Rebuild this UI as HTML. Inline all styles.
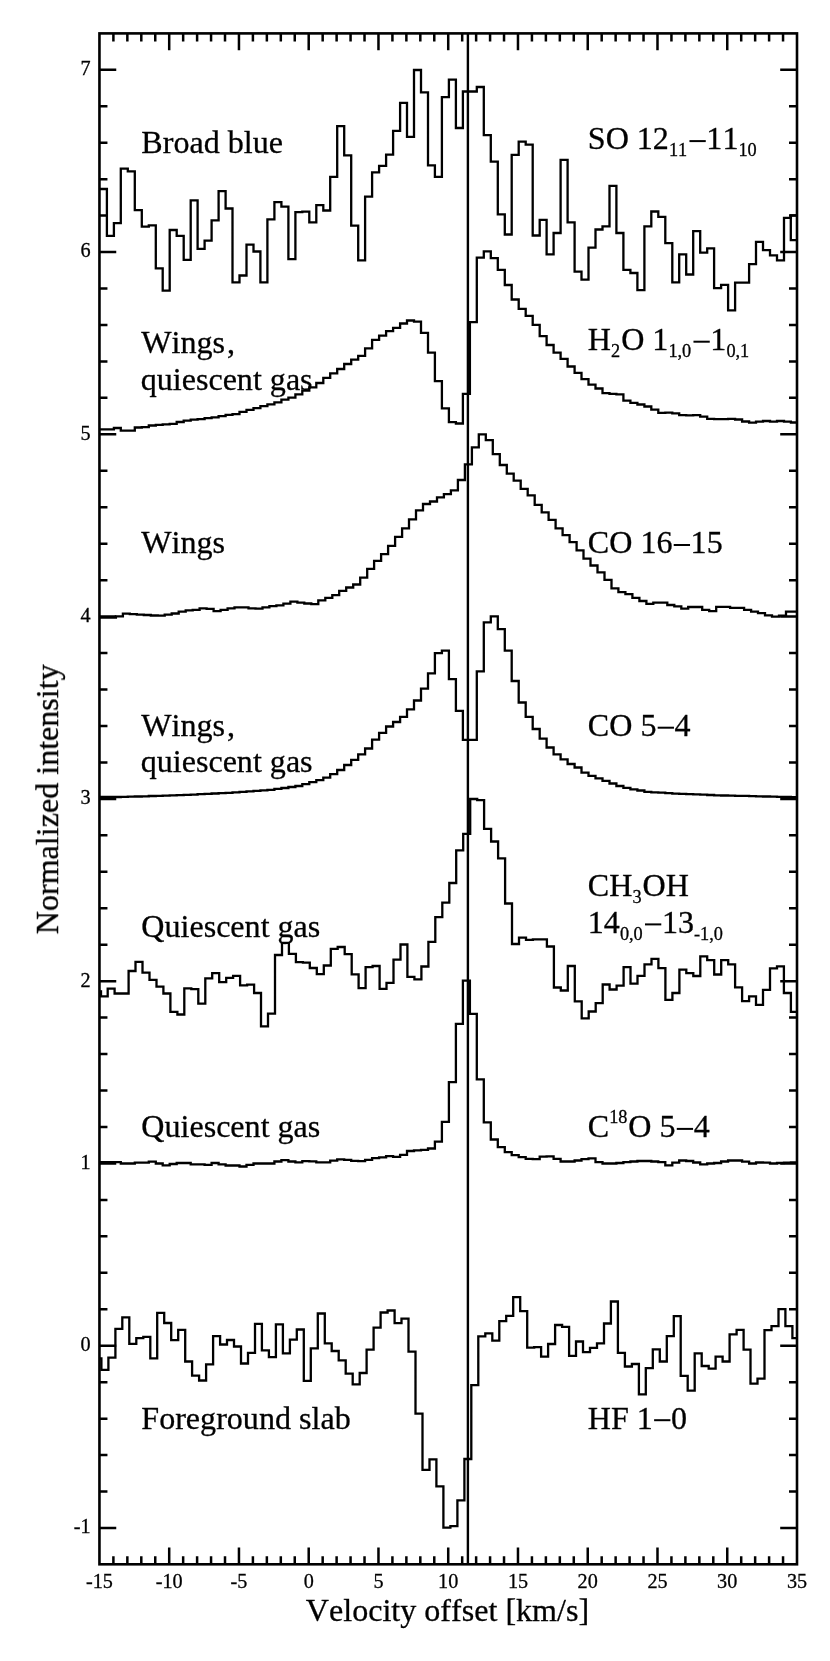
<!DOCTYPE html>
<html><head><meta charset="utf-8"><style>
html,body{margin:0;padding:0;background:#fff}
svg{display:block}
text{font-family:"Liberation Serif",serif;fill:#000;font-kerning:none;stroke:#000;stroke-width:0.3px}
</style></head><body>
<svg width="830" height="1661" viewBox="0 0 830 1661">
<rect width="830" height="1661" fill="#fff"/>
<g fill="none" stroke="#000" stroke-width="2.3" stroke-linejoin="miter" stroke-linecap="butt">
<path d="M99.5,189.0H106.9V235.8H113.9V223.1H120.8V168.7H127.8V171.3H134.8V210.2H141.8V226.7H148.8V225.4H155.8V268.4H162.7V290.7H169.7V230.0H176.7V235.8H183.7V259.8H190.7V200.4H197.6V248.9H204.6V240.6H211.6V220.3H218.6V191.2H225.6V208.5H232.5V282.3H239.5V275.5H246.5V244.6H253.5V251.5H260.4V282.3H267.4V219.3H274.4V202.1H281.4V206.7H288.4V259.1H295.4V212.2H302.3V211.7H309.3V222.4H316.3V205.2H323.3V210.5H330.2V176.8H337.2V126.2H344.2V155.3H351.2V225.7H358.2V260.3H365.1V196.6H372.1V172.3H379.1V165.9H386.1V154.6H393.1V130.8H400.1V102.9H407.0V136.8H414.0V70.0H421.0V92.3H428.0V165.4H434.9V176.8H441.9V97.1H448.9V79.7H455.9V128.0H462.9V91.5H469.9V91.5H476.8V87.0H483.8V135.1H490.8V161.6H497.8V214.3H504.8V234.5H511.7V154.8H518.7V141.6H525.7V144.7H532.7V235.5H539.7V219.8H546.6V254.3H553.6V233.0H560.6V159.9H567.6V222.4H574.6V271.7H581.5V279.6H588.5V247.7H595.5V229.5H602.5V226.4H609.5V185.9H616.4V233.0H623.4V269.9H630.4V273.0H637.4V290.2H644.4V226.4H651.3V211.5H658.3V216.8H665.3V243.1H672.3V282.3H679.2V254.3H686.2V274.5H693.2V231.2H700.2V252.7H707.2V248.4H714.1V288.2H721.1V284.9H728.1V310.4H735.1V282.6H742.1V282.6H749.1V264.1H756.0V241.9H763.0V250.2H770.0V255.3H777.0V260.3H784.0V217.8H790.9V215.3H797.0"/>
<path d="M99.5,429.3H106.9V429.3H113.9V428.0H120.8V430.6H127.8V430.6H134.8V427.5H141.8V427.1H148.8V425.5H155.8V424.8H162.7V424.3H169.7V423.8H176.7V422.0H183.7V420.7H190.7V419.7H197.6V419.2H204.6V418.2H211.6V417.4H218.6V416.2H225.6V414.9H232.5V414.2H239.5V411.9H246.5V409.8H253.5V408.1H260.4V406.1H267.4V404.3H274.4V402.3H281.4V399.7H288.4V397.7H295.4V394.4H302.3V390.6H309.3V387.3H316.3V383.0H323.3V377.9H330.2V373.4H337.2V369.0H344.2V364.0H351.2V359.7H358.2V355.9H365.1V348.3H372.1V339.9H379.1V335.6H386.1V331.1H393.1V327.8H400.1V323.5H407.0V320.5H414.0V321.7H421.0V332.9H428.0V352.6H434.9V381.2H441.9V408.3H448.9V422.2H455.9V423.5H462.9V393.8H469.9V322.2H476.8V257.7H483.8V251.4H490.8V258.2H497.8V269.9H504.8V285.0H511.7V299.5H518.7V308.8H525.7V315.9H532.7V324.8H539.7V336.2H546.6V345.0H553.6V352.6H560.6V358.9H567.6V366.5H574.6V372.8H581.5V379.2H588.5V384.7H595.5V388.5H602.5V393.1H609.5V393.8H616.4V394.4H623.4V400.7H630.4V402.8H637.4V404.5H644.4V406.5H651.3V409.6H658.3V412.9H665.3V412.6H672.3V413.4H679.2V415.2H686.2V415.4H693.2V415.2H700.2V416.7H707.2V418.9H714.1V419.2H721.1V419.2H728.1V418.9H735.1V419.5H742.1V421.5H749.1V422.7H756.0V421.7H763.0V421.0H770.0V421.7H777.0V421.0H784.0V421.7H790.9V422.5H797.0"/>
<path d="M99.5,617.5H108.9V617.5H115.9V616.3H122.9V613.7H129.8V614.2H136.8V614.7H143.8V615.0H150.8V615.5H157.8V615.7H164.7V614.7H171.7V613.5H178.7V611.7H185.7V610.4H192.7V609.9H199.6V608.4H206.6V608.9H213.6V611.2H220.6V609.9H227.6V608.4H234.5V607.4H241.5V607.4H248.5V608.4H255.5V608.7H262.5V607.4H269.4V606.1H276.4V605.4H283.4V603.6H290.4V601.7H297.4V602.7H304.3V603.5H311.3V604.2H318.3V600.4H325.3V597.9H332.3V595.1H339.2V590.8H346.2V587.5H353.2V584.5H360.2V577.6H367.2V568.8H374.1V560.9H381.1V554.1H388.1V545.8H395.1V536.9H402.1V528.3H409.0V519.4H416.0V510.3H423.0V504.0H430.0V501.5H437.0V497.4H443.9V494.1H450.9V490.3H457.9V480.0H464.9V464.3H471.9V447.3H478.8V434.4H485.8V440.2H492.8V454.2H499.8V465.0H506.8V473.6H513.7V480.7H520.7V488.8H527.7V495.4H534.7V504.8H541.7V512.4H548.6V519.9H555.6V528.3H562.6V535.1H569.6V542.2H576.6V550.3H583.5V558.7H590.5V565.5H597.5V572.3H604.5V579.9H611.5V588.3H618.4V592.1H625.4V594.1H632.4V597.9H639.4V601.0H646.4V603.8H653.3V602.7H660.3V602.7H667.3V605.0H674.3V606.3H681.3V608.6H688.2V607.0H695.2V607.0H702.2V609.8H709.2V611.1H716.2V606.8H723.1V606.8H730.1V607.8H737.1V607.8H744.1V609.8H751.1V611.6H758.0V613.1H765.0V615.4H772.0V616.7H779.0V615.6H786.0V611.6H792.9V611.6H797.0"/>
<path d="M99.5,797.0H106.9V797.0H113.9V797.0H120.8V796.9H127.8V796.7H134.8V796.5H141.8V796.3H148.8V796.0H155.8V795.8H162.7V795.6H169.7V795.4H176.7V795.1H183.7V794.8H190.7V794.6H197.6V794.2H204.6V793.9H211.6V793.5H218.6V793.2H225.6V792.8H232.5V792.3H239.5V791.9H246.5V791.4H253.5V790.8H260.4V790.4H267.4V789.8H274.4V788.9H281.4V788.0H288.4V787.0H295.4V786.0H302.3V784.2H309.3V782.2H316.3V780.2H323.3V777.6H330.2V774.1H337.2V770.0H344.2V765.0H351.2V759.9H358.2V754.4H365.1V748.5H372.1V739.7H379.1V732.8H386.1V726.5H393.1V722.0H400.1V716.9H407.0V709.3H414.0V700.5H421.0V688.6H428.0V673.4H434.9V653.1H441.9V650.6H448.9V679.2H455.9V710.8H462.9V739.9H469.9V739.9H476.8V671.4H483.8V622.3H490.8V616.4H497.8V629.1H504.8V650.6H511.7V681.0H518.7V702.5H525.7V716.9H532.7V729.0H539.7V738.7H546.6V747.5H553.6V754.4H560.6V759.4H567.6V764.0H574.6V767.5H581.5V772.6H588.5V775.9H595.5V778.4H602.5V780.9H609.5V783.5H616.4V786.0H623.4V787.8H630.4V789.3H637.4V790.5H644.4V791.8H651.3V792.3H658.3V792.7H665.3V793.2H672.3V793.6H679.2V793.9H686.2V794.1H693.2V794.4H700.2V794.7H707.2V795.0H714.1V795.3H721.1V795.5H728.1V795.6H735.1V795.8H742.1V795.9H749.1V796.1H756.0V796.3H763.0V796.5H770.0V796.7H777.0V796.8H784.0V797.0H790.9V797.1H797.0"/>
<path d="M99.5,996.3H107.7V988.7H114.6V993.5H121.6V993.5H128.6V971.0H135.5V961.8H142.5V972.7H149.5V979.8H156.5V986.6H163.4V993.5H170.4V1011.9H177.4V1014.5H184.3V988.4H191.3V989.2H198.3V1003.6H205.3V978.3H212.2V973.2H219.2V982.1H226.2V977.8H233.1V975.8H240.1V985.4H247.1V984.6H254.1V993.0H261.0V1026.4H268.0V1013.7H275.0V955.0H282.0V942.9H288.9V953.8H295.9V962.2H302.9V962.7H309.8V968.0H316.8V974.1H323.8V965.5H330.8V948.8H337.7V947.0H344.7V954.1H351.7V974.3H358.6V988.2H365.6V967.2H372.6V966.0H379.6V988.8H386.5V982.9H393.5V959.7H400.5V944.5H407.4V976.9H414.4V979.4H421.4V966.5H428.4V941.9H435.3V917.1H442.3V902.7H449.3V883.0H456.2V850.3H463.2V833.9H470.2V799.0H477.2V800.2H484.1V828.8H491.1V841.5H498.1V858.4H505.1V903.5H512.0V944.0H519.0V937.6H526.0V939.9H532.9V939.4H539.9V939.4H546.9V946.5H553.9V987.5H560.8V990.5H567.8V966.0H574.8V1001.4H581.7V1018.4H588.7V1011.5H595.7V1003.2H602.7V984.5H609.6V989.5H616.6V985.7H623.6V967.2H630.5V983.6H637.5V975.8H644.5V964.4H651.5V958.8H658.4V968.2H665.4V999.8H672.4V993.0H679.4V969.7H686.3V973.2H693.3V976.0H700.3V956.3H707.2V960.1H714.2V974.5H721.2V960.1H728.2V964.4H735.1V987.4H742.1V1001.1H749.1V996.3H756.0V1004.9H763.0V989.9H770.0V968.4H777.0V966.4H783.9V993.0H790.9V1011.9H797.0"/>
<path d="M99.5,1162.2H106.9V1162.2H113.9V1162.2H120.8V1163.5H127.8V1163.5H134.8V1162.7H141.8V1162.7H148.8V1161.7H155.8V1163.5H162.7V1165.3H169.7V1164.0H176.7V1163.0H183.7V1163.0H190.7V1164.3H197.6V1164.3H204.6V1164.8H211.6V1163.0H218.6V1164.3H225.6V1165.5H232.5V1165.5H239.5V1166.5H246.5V1164.8H253.5V1163.5H260.4V1163.5H267.4V1163.5H274.4V1161.5H281.4V1160.2H288.4V1161.5H295.4V1162.4H302.3V1161.2H309.3V1161.4H316.3V1162.4H323.3V1162.4H330.2V1160.7H337.2V1159.4H344.2V1159.9H351.2V1160.9H358.2V1161.2H365.1V1159.9H372.1V1158.1H379.1V1157.4H386.1V1156.1H393.1V1156.9H400.1V1154.8H407.0V1151.0H414.0V1150.3H421.0V1149.8H428.0V1148.5H434.9V1141.7H441.9V1121.9H448.9V1082.2H455.9V1023.8H462.9V980.7H469.9V1013.9H476.8V1079.4H483.8V1122.4H490.8V1139.5H497.8V1147.1H504.8V1152.1H511.7V1155.2H518.7V1157.2H525.7V1158.9H532.7V1159.2H539.7V1156.7H546.6V1156.4H553.6V1158.9H560.6V1161.5H567.6V1161.5H574.6V1160.5H581.5V1159.2H588.5V1158.4H595.5V1162.2H602.5V1163.5H609.5V1163.5H616.4V1163.0H623.4V1162.2H630.4V1161.5H637.4V1161.0H644.4V1161.0H651.3V1161.5H658.3V1162.2H665.3V1165.3H672.3V1162.7H679.2V1160.5H686.2V1161.0H693.2V1162.5H700.2V1164.3H707.2V1163.5H714.1V1163.0H721.1V1161.5H728.1V1160.5H735.1V1160.5H742.1V1161.7H749.1V1163.5H756.0V1162.5H763.0V1162.7H770.0V1163.5H777.0V1163.0H784.0V1162.7H790.9V1162.5H797.0"/>
<path d="M99.5,1358.4H101.4V1369.8H108.4V1357.7H115.4V1328.8H122.3V1317.4H129.3V1343.8H136.3V1338.2H143.3V1336.9H150.3V1358.4H157.2V1312.9H164.2V1323.0H171.2V1340.2H178.2V1329.8H185.2V1361.5H192.1V1375.6H199.1V1380.5H206.1V1364.3H213.1V1336.2H220.1V1344.5H227.0V1340.0H234.0V1346.5H241.0V1363.5H248.0V1352.9H255.0V1323.8H261.9V1350.3H268.9V1357.2H275.9V1324.3H282.9V1353.4H289.9V1339.6H296.8V1329.5H303.8V1380.8H310.8V1348.4H317.8V1313.5H324.8V1343.4H331.7V1351.0H338.7V1360.3H345.7V1373.7H352.7V1384.4H359.7V1373.0H366.6V1349.7H373.6V1327.7H380.6V1312.5H387.6V1310.5H394.6V1323.1H401.5V1318.6H408.5V1351.7H415.5V1413.7H422.5V1469.9H429.5V1459.3H436.4V1486.3H443.4V1527.6H450.4V1526.1H457.4V1500.3H464.4V1459.0H471.3V1385.1H478.3V1336.3H485.3V1333.3H492.3V1340.7H499.3V1321.2H506.2V1315.9H513.2V1297.2H520.2V1311.1H527.2V1347.6H534.2V1347.1H541.1V1356.7H548.1V1344.0H555.1V1325.0H562.1V1326.8H569.1V1355.9H576.0V1341.5H583.0V1352.1H590.0V1347.8H597.0V1343.3H604.0V1323.5H610.9V1301.5H617.9V1352.9H624.9V1366.5H631.9V1364.0H638.9V1394.4H645.8V1368.1H652.8V1349.3H659.8V1361.5H666.8V1336.2H673.8V1316.2H680.7V1375.9H687.7V1390.6H694.7V1353.4H701.7V1366.0H708.7V1368.6H715.6V1356.7H722.6V1361.5H729.6V1334.4H736.6V1329.8H743.6V1349.6H750.5V1383.7H757.5V1378.7H764.5V1330.1H771.5V1326.1H778.5V1309.1H785.4V1326.1H792.4V1338.2H797.0"/>
<path d="M101,990.2V996.3"/>
<path d="M790.8,215.2V240.2H797.0"/>
</g>
<path d="M467.9,33.4V1564.3" stroke="#000" stroke-width="2.4" fill="none"/>
<path d="M113.40,1564.3v-8M113.40,33.4v8M127.35,1564.3v-8M127.35,33.4v8M141.30,1564.3v-8M141.30,33.4v8M155.25,1564.3v-8M155.25,33.4v8M169.20,1564.3v-16.8M169.20,33.4v16.8M183.16,1564.3v-8M183.16,33.4v8M197.11,1564.3v-8M197.11,33.4v8M211.06,1564.3v-8M211.06,33.4v8M225.01,1564.3v-8M225.01,33.4v8M238.96,1564.3v-16.8M238.96,33.4v16.8M252.91,1564.3v-8M252.91,33.4v8M266.86,1564.3v-8M266.86,33.4v8M280.81,1564.3v-8M280.81,33.4v8M294.76,1564.3v-8M294.76,33.4v8M308.71,1564.3v-16.8M308.71,33.4v16.8M322.67,1564.3v-8M322.67,33.4v8M336.62,1564.3v-8M336.62,33.4v8M350.57,1564.3v-8M350.57,33.4v8M364.52,1564.3v-8M364.52,33.4v8M378.47,1564.3v-16.8M378.47,33.4v16.8M392.42,1564.3v-8M392.42,33.4v8M406.37,1564.3v-8M406.37,33.4v8M420.32,1564.3v-8M420.32,33.4v8M434.27,1564.3v-8M434.27,33.4v8M448.22,1564.3v-16.8M448.22,33.4v16.8M462.18,1564.3v-8M462.18,33.4v8M476.13,1564.3v-8M476.13,33.4v8M490.08,1564.3v-8M490.08,33.4v8M504.03,1564.3v-8M504.03,33.4v8M517.98,1564.3v-16.8M517.98,33.4v16.8M531.93,1564.3v-8M531.93,33.4v8M545.88,1564.3v-8M545.88,33.4v8M559.83,1564.3v-8M559.83,33.4v8M573.78,1564.3v-8M573.78,33.4v8M587.74,1564.3v-16.8M587.74,33.4v16.8M601.69,1564.3v-8M601.69,33.4v8M615.64,1564.3v-8M615.64,33.4v8M629.59,1564.3v-8M629.59,33.4v8M643.54,1564.3v-8M643.54,33.4v8M657.49,1564.3v-16.8M657.49,33.4v16.8M671.44,1564.3v-8M671.44,33.4v8M685.39,1564.3v-8M685.39,33.4v8M699.34,1564.3v-8M699.34,33.4v8M713.29,1564.3v-8M713.29,33.4v8M727.25,1564.3v-16.8M727.25,33.4v16.8M741.20,1564.3v-8M741.20,33.4v8M755.15,1564.3v-8M755.15,33.4v8M769.10,1564.3v-8M769.10,33.4v8M783.05,1564.3v-8M783.05,33.4v8M99.45,1528.00h16.8M797.0,1528.00h-16.8M99.45,1491.54h8M797.0,1491.54h-8M99.45,1455.09h8M797.0,1455.09h-8M99.45,1418.63h8M797.0,1418.63h-8M99.45,1382.18h8M797.0,1382.18h-8M99.45,1345.72h16.8M797.0,1345.72h-16.8M99.45,1309.26h8M797.0,1309.26h-8M99.45,1272.81h8M797.0,1272.81h-8M99.45,1236.35h8M797.0,1236.35h-8M99.45,1199.90h8M797.0,1199.90h-8M99.45,1163.44h16.8M797.0,1163.44h-16.8M99.45,1126.98h8M797.0,1126.98h-8M99.45,1090.53h8M797.0,1090.53h-8M99.45,1054.07h8M797.0,1054.07h-8M99.45,1017.62h8M797.0,1017.62h-8M99.45,981.16h16.8M797.0,981.16h-16.8M99.45,944.70h8M797.0,944.70h-8M99.45,908.25h8M797.0,908.25h-8M99.45,871.79h8M797.0,871.79h-8M99.45,835.34h8M797.0,835.34h-8M99.45,798.88h16.8M797.0,798.88h-16.8M99.45,762.42h8M797.0,762.42h-8M99.45,725.97h8M797.0,725.97h-8M99.45,689.51h8M797.0,689.51h-8M99.45,653.06h8M797.0,653.06h-8M99.45,616.60h16.8M797.0,616.60h-16.8M99.45,580.14h8M797.0,580.14h-8M99.45,543.69h8M797.0,543.69h-8M99.45,507.23h8M797.0,507.23h-8M99.45,470.78h8M797.0,470.78h-8M99.45,434.32h16.8M797.0,434.32h-16.8M99.45,397.86h8M797.0,397.86h-8M99.45,361.41h8M797.0,361.41h-8M99.45,324.95h8M797.0,324.95h-8M99.45,288.50h8M797.0,288.50h-8M99.45,252.04h16.8M797.0,252.04h-16.8M99.45,215.58h8M797.0,215.58h-8M99.45,179.13h8M797.0,179.13h-8M99.45,142.67h8M797.0,142.67h-8M99.45,106.22h8M797.0,106.22h-8M99.45,69.76h16.8M797.0,69.76h-16.8" stroke="#000" stroke-width="2.5" fill="none"/>
<rect x="99.45" y="33.4" width="697.55" height="1530.8999999999999" fill="none" stroke="#000" stroke-width="2.6"/>
<g opacity="0.999">
<text x="99.5" y="1587.9" text-anchor="middle" font-size="20.2">-15</text>
<text x="169.2" y="1587.9" text-anchor="middle" font-size="20.2">-10</text>
<text x="239.0" y="1587.9" text-anchor="middle" font-size="20.2">-5</text>
<text x="308.7" y="1587.9" text-anchor="middle" font-size="20.2">0</text>
<text x="378.5" y="1587.9" text-anchor="middle" font-size="20.2">5</text>
<text x="448.2" y="1587.9" text-anchor="middle" font-size="20.2">10</text>
<text x="518.0" y="1587.9" text-anchor="middle" font-size="20.2">15</text>
<text x="587.7" y="1587.9" text-anchor="middle" font-size="20.2">20</text>
<text x="657.5" y="1587.9" text-anchor="middle" font-size="20.2">25</text>
<text x="727.2" y="1587.9" text-anchor="middle" font-size="20.2">30</text>
<text x="797.0" y="1587.9" text-anchor="middle" font-size="20.2">35</text>
<text x="90.6" y="1533.4" text-anchor="end" font-size="20.2">-1</text>
<text x="90.6" y="1351.1" text-anchor="end" font-size="20.2">0</text>
<text x="90.6" y="1168.8" text-anchor="end" font-size="20.2">1</text>
<text x="90.6" y="986.6" text-anchor="end" font-size="20.2">2</text>
<text x="90.6" y="804.3" text-anchor="end" font-size="20.2">3</text>
<text x="90.6" y="622.0" text-anchor="end" font-size="20.2">4</text>
<text x="90.6" y="439.7" text-anchor="end" font-size="20.2">5</text>
<text x="90.6" y="257.4" text-anchor="end" font-size="20.2">6</text>
<text x="90.6" y="75.2" text-anchor="end" font-size="20.2">7</text>
<text x="141.30" y="153.00" font-size="32.1">Broad blue</text>
<text x="141.30" y="353.00" font-size="32.1">Wings</text>
<text x="226.91" y="353.00" font-size="32.1">,</text>
<text x="140.70" y="390.00" font-size="32.1">quiescent gas</text>
<text x="141.30" y="553.30" font-size="32.1">Wings</text>
<text x="141.30" y="735.50" font-size="32.1">Wings</text>
<text x="226.91" y="735.50" font-size="32.1">,</text>
<text x="140.70" y="771.50" font-size="32.1">quiescent gas</text>
<text x="141.30" y="936.50" font-size="32.1">Quiescent gas</text>
<text x="141.30" y="1137.00" font-size="32.1">Quiescent gas</text>
<text x="141.30" y="1428.70" font-size="32.1">Foreground slab</text>
<text x="587.80" y="149.40" font-size="32.1">SO 12</text>
<text x="668.96" y="156.40" font-size="18.3">11</text>
<text x="706.36" y="149.40" font-size="32.1">11</text>
<text x="738.46" y="156.40" font-size="18.3">10</text>
<text x="587.80" y="350.00" font-size="32.1">H</text>
<text x="610.98" y="357.00" font-size="18.3">2</text>
<text x="621.13" y="350.00" font-size="32.1">O 1</text>
<text x="668.39" y="357.00" font-size="18.3">1,0</text>
<text x="710.37" y="350.00" font-size="32.1">1</text>
<text x="726.42" y="357.00" font-size="18.3">0,1</text>
<text x="587.80" y="553.30" font-size="32.1">CO 16</text>
<text x="690.62" y="553.30" font-size="32.1">15</text>
<text x="587.80" y="736.00" font-size="32.1">CO 5</text>
<text x="674.57" y="736.00" font-size="32.1">4</text>
<text x="587.80" y="895.50" font-size="32.1">CH</text>
<text x="632.39" y="902.50" font-size="18.3">3</text>
<text x="642.54" y="895.50" font-size="32.1">OH</text>
<text x="587.80" y="932.70" font-size="32.1">14</text>
<text x="619.90" y="939.70" font-size="18.3">0,0</text>
<text x="661.88" y="932.70" font-size="32.1">13</text>
<text x="693.98" y="939.70" font-size="18.3">-1,0</text>
<text x="587.80" y="1137.20" font-size="32.1">C</text>
<text x="609.21" y="1123.20" font-size="18.3">18</text>
<text x="628.31" y="1137.20" font-size="32.1">O 5</text>
<text x="693.67" y="1137.20" font-size="32.1">4</text>
<text x="587.80" y="1428.50" font-size="32.1">HF 1</text>
<text x="671.01" y="1428.50" font-size="32.1">0</text>
<text x="447.5" y="1620.8" text-anchor="middle" font-size="32.1">Velocity offset [km/s]</text>
<text transform="translate(58.0,799.3) rotate(-90)" text-anchor="middle" font-size="32.1">Normalized intensity</text>
<g fill="#000"><rect x="689.46" y="140.10" width="16.3" height="2.0"/>
<rect x="693.46" y="340.70" width="16.3" height="2.0"/>
<rect x="673.72" y="544.00" width="16.3" height="2.0"/>
<rect x="657.67" y="726.70" width="16.3" height="2.0"/>
<rect x="644.98" y="923.40" width="16.3" height="2.0"/>
<rect x="676.77" y="1127.90" width="16.3" height="2.0"/>
<rect x="654.11" y="1419.20" width="16.3" height="2.0"/>
</g>
</g>
</svg>
</body></html>
